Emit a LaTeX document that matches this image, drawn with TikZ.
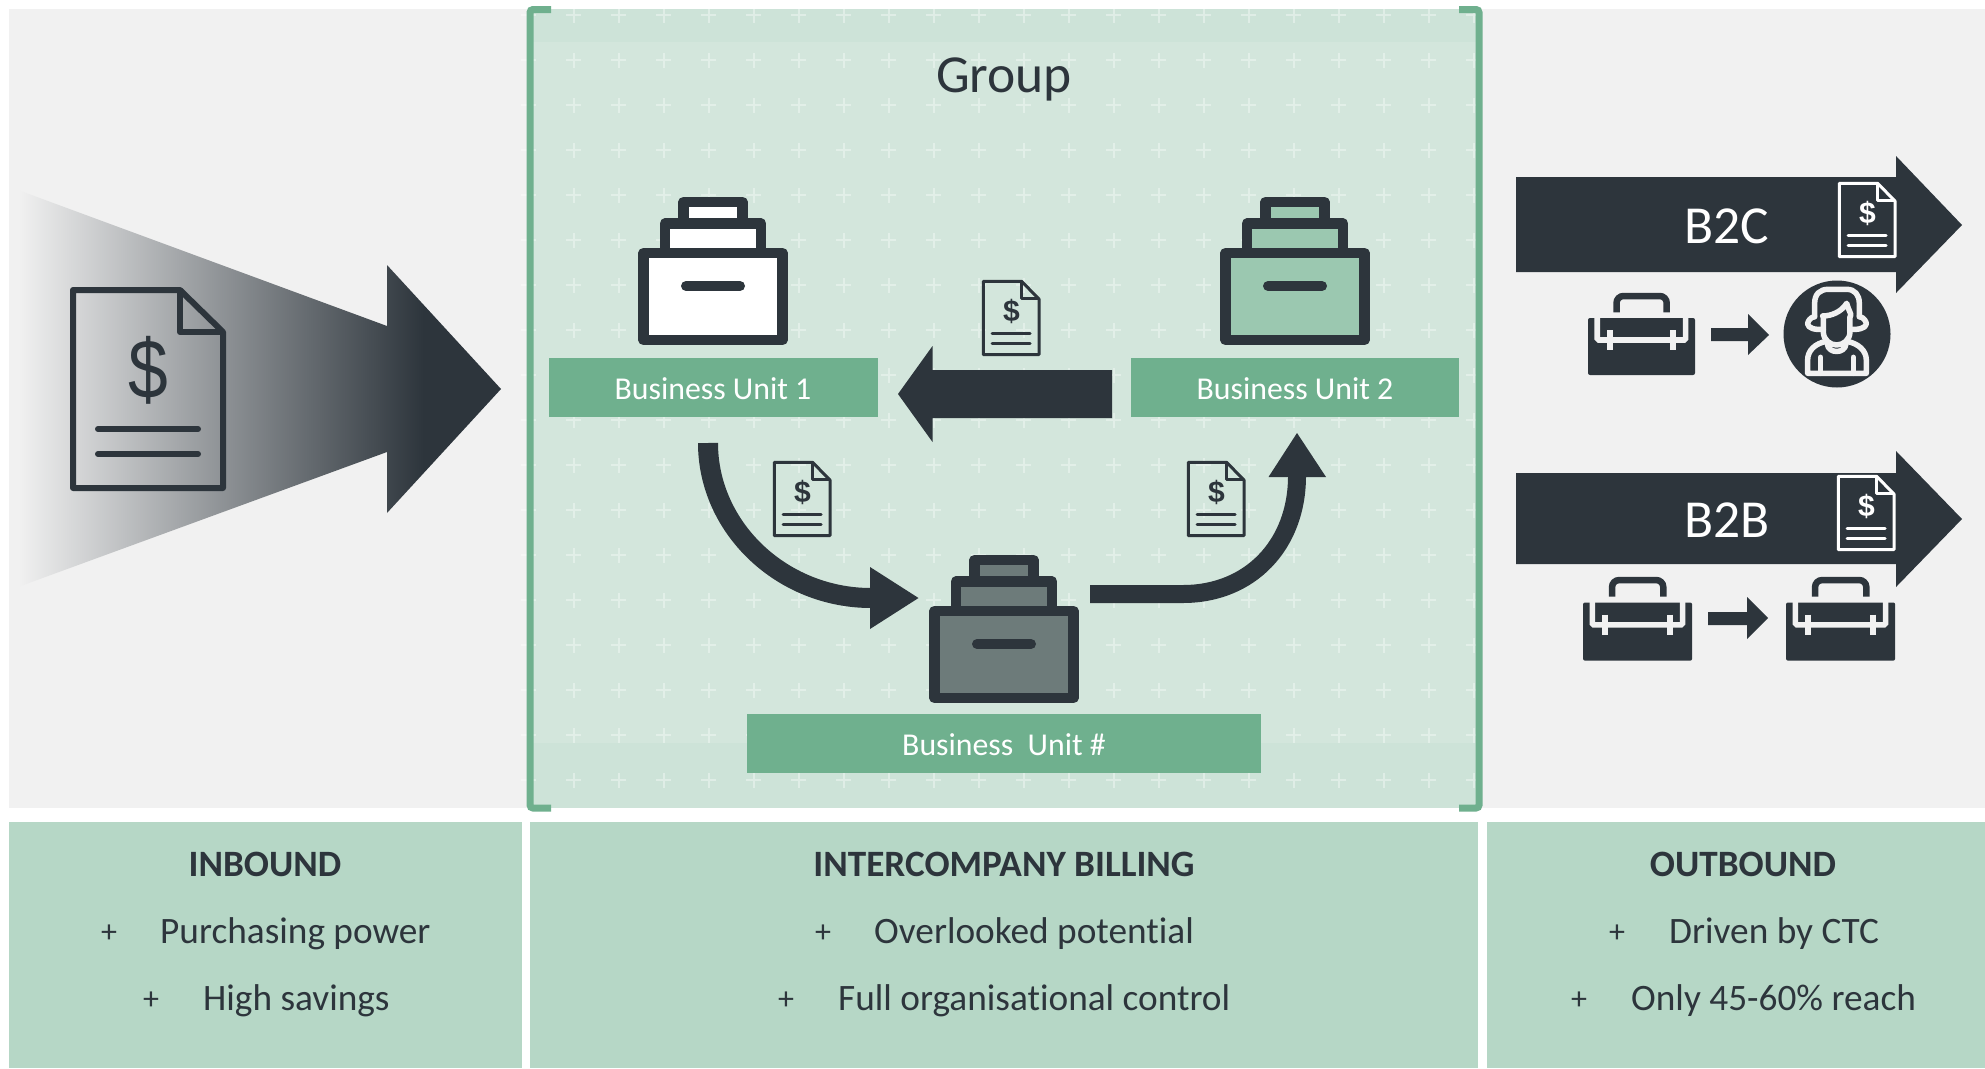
\documentclass[tikz,border=0pt]{standalone}
\usepackage{fontspec}
\setmainfont{Carlito}[Ligatures=NoCommon]
\newfontfamily\dollarfont{Liberation Sans}
\definecolor{ink}{HTML}{2D353C}
\definecolor{panelgrey}{HTML}{F1F1F1}
\definecolor{midpanel}{HTML}{D3E6DC}
\definecolor{midband}{HTML}{CDE3D8}
\definecolor{barcol}{HTML}{6FB08E}
\definecolor{notepanel}{HTML}{B6D7C6}
\definecolor{boxtwo}{HTML}{9BC8B0}
\definecolor{boxhash}{HTML}{6D7B7A}
\pgfdeclarehorizontalshading{bigarrowshade}{100bp}{color(0bp)=(panelgrey); color(25bp)=(panelgrey); color(67bp)=(ink); color(100bp)=(ink)}
\tikzset{
  x=1pt,y=-1pt,
  barlabel/.style={fill=barcol,text=white,inner sep=0pt,minimum height=59pt,text height=23pt,text depth=0pt,font=\fontsize{31.8}{38}\selectfont},
  heading/.style={text=ink,inner sep=0pt,font=\fontsize{37.2}{44}\selectfont\bfseries},
  itemtext/.style={text=ink,inner sep=0pt,anchor=west,font=\fontsize{37.3}{44}\selectfont},
  plusmark/.style={text=ink,inner sep=0pt,font=\fontsize{32}{38}\selectfont},
  bigtext/.style={inner sep=0pt,font=\fontsize{53.5}{64}\selectfont},
}
% filing box: centre x, top y, fill colour
\newcommand{\filebox}[4]{%
  \begin{scope}[shift={(#1,#2)}]
    \draw[ink,line width=10.5pt,line join=round,fill=#3] (-29.5,5) rectangle (29.5,26);
    \draw[ink,line width=10.5pt,line join=round,fill=#3] (-48,26.5) rectangle (48,56);
    \draw[ink,line width=10.5pt,line join=round,fill=#3] (-69.5,56) rectangle (69.5,143);
    \draw[ink,line width=10pt,line cap=round] (-27,89) -- (27,89);
    \coordinate (#4) at (0,0);
  \end{scope}}
% small invoice: left, top, colour, name
\newcommand{\smalldoc}[4]{%
  \begin{scope}[shift={(#1,#2)}]
    \draw[#3,line width=3pt,line join=round] (1.3,1.3) -- (39.5,1.3) -- (57,19) -- (57,74.7) -- (1.3,74.7) -- cycle;
    \draw[#3,line width=3pt,line join=round] (39.5,1.3) -- (39.5,18) -- (57,18);
    \draw[#3,line width=3pt,line cap=round] (10,53.5) -- (48,53.5) (10,63) -- (48,63);
    \node[inner sep=0pt,text=#3,font=\fontsize{30}{31}\selectfont\dollarfont\bfseries] (#4) at (29.5,31.5) {\$};
  \end{scope}}
% tool case: left, top, scale
\newcommand{\toolcase}[3]{%
  \begin{scope}[shift={(#1,#2)},x=#3pt,y=-#3pt]
    \fill[ink,rounded corners=2pt] (0,25) rectangle (107,82);
    \draw[ink,line width=6.5pt,rounded corners=7pt] (28.5,19.3) -- (28.5,3) -- (78.7,3) -- (78.7,19.3);
    \draw[panelgrey,line width=5.6pt,rounded corners=1.5pt] (9.2,24) -- (9.2,47) -- (97.6,47) -- (97.6,24);
    \draw[panelgrey,line width=6pt] (22,37) -- (22,57) (85,37) -- (85,57);
  \end{scope}}
\begin{document}
\begin{tikzpicture}
\useasboundingbox (0,0) rectangle (1985,1068);
\fill[white] (0,0) rectangle (1985,1068);
% top panels
\fill[panelgrey] (9,9) rectangle (530,808);
\fill[panelgrey] (1479,9) rectangle (1985,808);
\fill[midpanel] (530,9) rectangle (1479,808);
\fill[midband] (530,9) rectangle (1479,42);
\fill[midband] (530,743) rectangle (1479,808);
% cross pattern
\foreach \cx in {0,...,21} \foreach \cy in {0,...,17}
  \draw[white,opacity=0.36,line width=2pt]
    ({528.6+45*\cx-7.5},{15+45*\cy}) -- ({528.6+45*\cx+7.5},{15+45*\cy})
    ({528.6+45*\cx},{15+45*\cy-7.5}) -- ({528.6+45*\cx},{15+45*\cy+7.5});
% bottom panels
\fill[notepanel] (9,822) rectangle (522,1068);
\fill[notepanel] (530,822) rectangle (1478,1068);
\fill[notepanel] (1487,822) rectangle (1985,1068);
% group bracket
\draw[barcol,line width=7pt,rounded corners=3pt] (551,9.5) -- (530,9.5) -- (530,808) -- (551,808);
\draw[barcol,line width=7pt,rounded corners=3pt] (1459,9.5) -- (1479,9.5) -- (1479,808) -- (1459,808);
\node[bigtext,text=ink] (group) at (1004,79.5) {Group};
% inbound arrow
\shade[shading=bigarrowshade] (18,190) -- (387,326) -- (387,265) -- (501,389) -- (387,513) -- (387,452) -- (18,587) -- cycle;
\begin{scope}[ink,line join=round]
  \draw[line width=6pt] (73,290) -- (180,290) -- (223,332) -- (223,488) -- (73,488) -- cycle;
  \draw[line width=6pt] (180,290) -- (180,332) -- (223,332);
  \draw[line width=6pt,line cap=round] (98,429) -- (198,429) (98,454) -- (198,454);
\end{scope}
\node[inner sep=0pt,text=ink,xscale=0.85,font=\fontsize{84}{90}\selectfont\dollarfont] (bigdollar) at (148,370) {\$};
% file boxes and labels
\filebox{713}{197}{white}{boxone}
\filebox{1295}{197}{boxtwo}{boxtwoc}
\filebox{1004}{555}{boxhash}{boxhashc}
\node[barlabel,minimum width=329pt] (bu1) at (713,387.5) {Business Unit 1};
\node[barlabel,minimum width=328pt] (bu2) at (1295,387.5) {Business Unit 2};
\node[barlabel,minimum width=514pt] (bun) at (1004,743.5) {Business\ \ Unit \#};
% intercompany arrows
\fill[ink] (1112,370) -- (932.5,370) -- (932.5,346) -- (898,394) -- (932.5,442) -- (932.5,418) -- (1112,418) -- cycle;
\smalldoc{982}{280}{ink}{doca}
\smalldoc{773}{461}{ink}{docb}
\smalldoc{1187}{461}{ink}{docc}
\coordinate (la) at (708,443);
\coordinate (lb) at (871,598);
\draw[ink,line width=20pt] (la) .. controls (708,528) and (782,598) .. (lb);
\fill[ink] (870,567) -- (918.5,598) -- (870,629) -- cycle;
\coordinate (ra) at (1090,594);
\coordinate (rb) at (1183,594);
\coordinate (rc) at (1297,476);
\draw[ink,line width=18pt] (ra) -- (rb) .. controls (1250,594) and (1297,545) .. (rc);
\fill[ink] (1268.5,477) -- (1297,433) -- (1326,477) -- cycle;
% outbound B2C
\fill[ink] (1516,177) -- (1896,177) -- (1896,156) -- (1962,225) -- (1896,293) -- (1896,272) -- (1516,272) -- cycle;
\node[bigtext,text=white] (b2c) at (1727,226) {B2C};
\smalldoc{1838}{182}{white}{docd}
\toolcase{1588}{293}{1}
\fill[ink] (1711,328) -- (1748,328) -- (1748,314) -- (1769,335) -- (1748,355) -- (1748,341) -- (1711,341) -- cycle;
\fill[ink] (1837,334) circle (53.5);
\begin{scope}[shift={(1480,140)},x=0.3333pt,y=-0.3333pt]
  \begin{scope}[panelgrey,line width=5.5pt,line join=round,line cap=round]
    \draw (1004,530) -- (1004,490) .. controls (1004,462) and (1020,448) .. (1045,448) -- (1100,448) .. controls (1125,448) and (1138,465) .. (1138,490) -- (1138,530);
    \draw (1028,528) .. controls (1055,528) and (1085,515) .. (1100,490) .. controls (1105,510) and (1115,522) .. (1112,528);
    \draw (1030,530) -- (1030,575) .. controls (1030,600) and (1050,615) .. (1070,615) .. controls (1090,615) and (1110,600) .. (1110,575) -- (1110,530);
    \draw (1004,530) .. controls (990,532) and (983,545) .. (983,552) .. controls (985,565) and (1005,570) .. (1030,568);
    \draw (1138,530) .. controls (1152,532) and (1159,545) .. (1159,552) .. controls (1157,565) and (1135,570) .. (1110,568);
    \draw (1040,604) .. controls (1005,610) and (983,632) .. (983,660) -- (983,700) -- (1159,700) -- (1159,660) .. controls (1159,632) and (1135,610) .. (1100,604);
    \draw (1042,612) .. controls (1045,642) and (1095,642) .. (1098,612);
    \draw (1022,700) -- (1022,652) (1120,700) -- (1120,652);
  \end{scope}
\end{scope}
% outbound B2B
\fill[ink] (1516,473) -- (1896,473) -- (1896,451) -- (1962,519) -- (1896,587) -- (1896,564) -- (1516,564) -- cycle;
\node[bigtext,text=white] (b2b) at (1727,520) {B2B};
\smalldoc{1837}{475}{white}{doce}
\toolcase{1583}{577}{1.02}
\toolcase{1786}{577}{1.02}
\fill[ink] (1708,612) -- (1747,612) -- (1747,597) -- (1768,618) -- (1747,639) -- (1747,625) -- (1708,625) -- cycle;
% bottom texts
\node[heading] (inb) at (265,864) {INBOUND};
\node[plusmark] (p1) at (109,934) {+};
\node[itemtext] (t1) at (160,934) {Purchasing power};
\node[plusmark] (p2) at (151,1001) {+};
\node[itemtext] (t2) at (203,1001) {High savings};
\node[heading] (icb) at (1004,864) {INTERCOMPANY BILLING};
\node[plusmark] (p3) at (823,934) {+};
\node[itemtext] (t3) at (874,934) {Overlooked potential};
\node[plusmark] (p4) at (786,1001) {+};
\node[itemtext] (t4) at (838,1001) {Full organisational control};
\node[heading] (outb) at (1743,864) {OUTBOUND};
\node[plusmark] (p5) at (1617,934) {+};
\node[itemtext] (t5) at (1669,934) {Driven by CTC};
\node[plusmark] (p6) at (1579,1001) {+};
\node[itemtext] (t6) at (1631,1001) {Only 45-60\% reach};
\end{tikzpicture}
\end{document}
